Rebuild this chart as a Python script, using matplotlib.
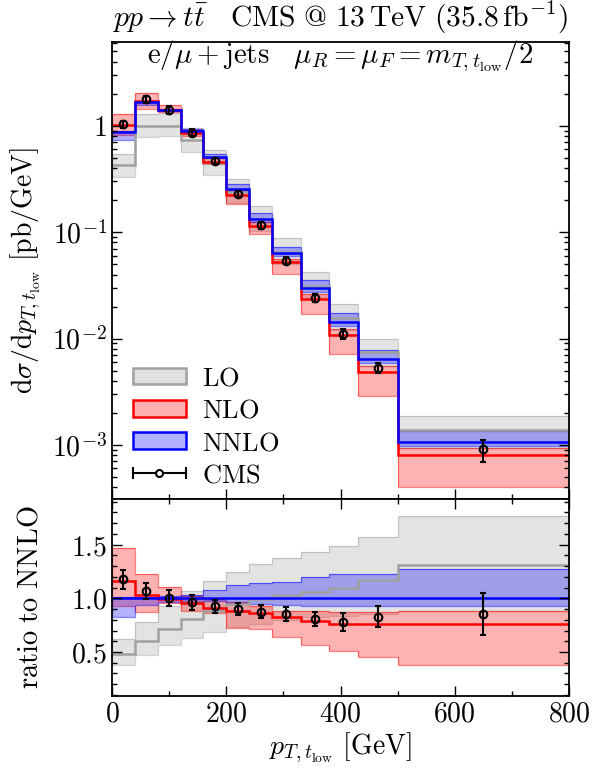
import numpy as np
import matplotlib
matplotlib.use('Agg')
import matplotlib.pyplot as plt
from matplotlib.patches import Patch
from matplotlib.lines import Line2D
from matplotlib.legend_handler import HandlerBase
from matplotlib.ticker import FixedLocator, FixedFormatter, MultipleLocator, LogLocator, NullFormatter

plt.rcParams['mathtext.fontset'] = 'cm'
plt.rcParams['font.family'] = ['DejaVu Serif']

# ---------------- data ----------------
edges = [0, 40, 80, 120, 160, 200, 240, 280, 330, 380, 430, 500, 800]
centers = [20, 60, 100, 140, 180, 220, 260, 305, 355, 405, 465, 650]

# NNLO absolute central values [pb/GeV]
nnlo = [0.88, 1.66, 1.41, 0.90, 0.507, 0.255, 0.133, 0.0634, 0.0297, 0.0142, 0.00638, 0.00106]

# ratios to NNLO central
nnlo_up_r = [1.01, 1.01, 1.02, 1.03, 1.08, 1.12, 1.14, 1.15, 1.20, 1.23, 1.23, 1.27]
nnlo_lo_r = [0.83, 0.94, 0.97, 0.97, 0.975, 0.96, 0.945, 0.936, 0.924, 0.924, 0.924, 0.924]

nlo_r = [1.158, 1.030, 0.991, 0.952, 0.909, 0.885, 0.861, 0.824, 0.788, 0.764, 0.758, 0.764]
nlo_up_r = [1.47, 1.224, 1.103, 1.02, 0.99, 0.97, 0.93, 0.88, 0.88, 0.87, 0.87, 0.88]
nlo_lo_r = [0.924, 0.876, 0.96, 0.885, 0.864, 0.724, 0.718, 0.642, 0.567, 0.506, 0.455, 0.376]

lo_r = [0.485, 0.603, 0.712, 0.809, 0.885, 0.945, 0.997, 1.027, 1.058, 1.097, 1.167, 1.306]
lo_up_r = [0.618, 0.779, 0.930, 1.067, 1.164, 1.248, 1.318, 1.376, 1.430, 1.488, 1.567, 1.764]
lo_lo_r = [0.379, 0.476, 0.567, 0.627, 0.682, 0.733, 0.764, 0.794, 0.824, 0.839, 0.858, 0.879]

cms_r = [1.179, 1.067, 1.003, 0.961, 0.924, 0.900, 0.876, 0.852, 0.809, 0.779, 0.830, 0.855]
cms_err_r = [0.088, 0.076, 0.079, 0.070, 0.060, 0.060, 0.064, 0.065, 0.067, 0.082, 0.094, 0.197]

edges = np.array(edges, float)
nnlo = np.array(nnlo)

# ---------------- figure ----------------
W, H = 598, 769
fig = plt.figure(figsize=(W / 100, H / 100), dpi=100)
L, R = 112 / W, 569 / W
ax = fig.add_axes([L, 1 - 499 / H, R - L, (499 - 42.3) / H])
axr = fig.add_axes([L, 1 - 696 / H, R - L, (696 - 499) / H], sharex=ax)

FS = 20

c_lo_line = '#a0a0a0'
c_lo_fill = (0.5, 0.5, 0.5, 0.22)
c_lo_edge = (0.6, 0.6, 0.6, 0.45)
c_nlo_fill = (1.0, 0.0, 0.0, 0.30)
c_nlo_edge = (1.0, 0.0, 0.0, 0.5)
c_nnlo_fill = (0.0, 0.0, 1.0, 0.30)
c_nnlo_edge = (0.0, 0.0, 1.0, 0.5)


def draw(a, scale):
    def s(r):
        return np.array(r) * scale
    a.stairs(s(lo_up_r), edges, baseline=s(lo_lo_r), fill=True, color=c_lo_fill, lw=0)
    a.stairs(s(lo_up_r), edges, baseline=s(lo_lo_r), fill=False, color=c_lo_edge, lw=0.9)
    a.stairs(s(nlo_up_r), edges, baseline=s(nlo_lo_r), fill=True, color=c_nlo_fill, lw=0)
    a.stairs(s(nlo_up_r), edges, baseline=s(nlo_lo_r), fill=False, color=c_nlo_edge, lw=0.9)
    a.stairs(s(nnlo_up_r), edges, baseline=s(nnlo_lo_r), fill=True, color=c_nnlo_fill, lw=0)
    a.stairs(s(nnlo_up_r), edges, baseline=s(nnlo_lo_r), fill=False, color=c_nnlo_edge, lw=0.9)
    a.stairs(s(lo_r), edges, baseline=None, color=c_lo_line, lw=1.8)
    a.stairs(s(nlo_r), edges, baseline=None, color='red', lw=1.8)
    a.stairs(s(np.ones(len(nnlo))), edges, baseline=None, color='blue', lw=1.8)
    a.errorbar(centers, s(cms_r), yerr=s(cms_err_r), fmt='o', mfc='none', mec='k',
               color='k', ms=5.5, mew=1.5, elinewidth=1.5, capsize=2.5, capthick=1.5, zorder=10)


draw(ax, nnlo)
draw(axr, np.ones(len(nnlo)))

# main axis
ax.set_yscale('log')
ax.set_ylim(3.1e-4, 6.1)
ax.set_xlim(0, 800)
ax.yaxis.set_major_locator(FixedLocator([1e-3, 1e-2, 1e-1, 1]))
ax.yaxis.set_major_formatter(FixedFormatter([r'$10^{-3}$', r'$10^{-2}$', r'$10^{-1}$', r'$1$']))
ax.yaxis.set_minor_locator(LogLocator(base=10, subs=np.arange(2, 10) * 1.0, numticks=20))
ax.yaxis.set_minor_formatter(NullFormatter())
ax.set_ylabel(r'$\mathrm{d}\sigma/\mathrm{d}p_{T,t_{\mathrm{low}}}\ [\mathrm{pb}/\mathrm{GeV}]$', fontsize=FS)
plt.setp(ax.get_xticklabels(), visible=False)

# ratio axis
axr.set_ylim(0.09, 1.925)
axr.yaxis.set_major_locator(FixedLocator([0.5, 1.0, 1.5]))
axr.yaxis.set_major_formatter(FixedFormatter([r'$0.5$', r'$1.0$', r'$1.5$']))
axr.yaxis.set_minor_locator(MultipleLocator(0.1))
axr.xaxis.set_major_locator(FixedLocator([0, 200, 400, 600, 800]))
axr.xaxis.set_major_formatter(FixedFormatter([r'$0$', r'$200$', r'$400$', r'$600$', r'$800$']))
axr.xaxis.set_minor_locator(MultipleLocator(100))
axr.set_ylabel(r'$\mathrm{ratio\ to\ NNLO}$', fontsize=20.5)
axr.set_xlabel(r'$p_{T,t_{\mathrm{low}}}\ [\mathrm{GeV}]$', fontsize=FS, labelpad=2)

for a in (ax, axr):
    a.tick_params(which='both', direction='in', top=True, right=True, labelsize=FS)
    a.tick_params(which='major', length=7, width=1.0)
    a.tick_params(which='minor', length=3.5, width=1.0)
    for sp in a.spines.values():
        sp.set_linewidth(1.3)
# top ticks of the main panel are hidden behind the white label box in the original
ax.tick_params(which='both', top=False)
ax.yaxis.set_label_coords(-0.15, 0.5)
axr.yaxis.set_label_coords(-0.15, 0.5)

# texts
fig.text((L + R) / 2, 1 - 27 / H,
         r'$pp \to t\bar{t}\quad \mathrm{CMS\ @\ 13\,TeV}\ (35.8\,\mathrm{fb}^{-1})$',
         ha='center', va='baseline', fontsize=21.3)
ax.text(0.5, 0.955, r'$\mathrm{e}/\mu + \mathrm{jets}\quad \mu_R = \mu_F = m_{T,t_{\mathrm{low}}}/2$',
        transform=ax.transAxes, ha='center', va='baseline', fontsize=20.8)


# legend
class HandlerCMS(HandlerBase):
    def create_artists(self, legend, orig_handle, xdescent, ydescent, width, height, fontsize, trans):
        y = height / 2 - ydescent
        x0, x1 = -xdescent, -xdescent + width
        line = Line2D([x0, x1], [y, y], color='k', lw=1.5)
        caps = Line2D([x0, x1], [y, y], ls='none', marker='|', ms=8, mew=1.5, color='k')
        dot = Line2D([(x0 + x1) / 2], [y], ls='none', marker='o', ms=5, mfc='white', mec='k', mew=1.5)
        for art in (line, caps, dot):
            art.set_transform(trans)
        return [line, caps, dot]


h_lo = Patch(facecolor='#e0e0e0', edgecolor='#a0a0a0', lw=1.8)
h_nlo = Patch(facecolor='#ffb0b0', edgecolor='red', lw=1.8)
h_nnlo = Patch(facecolor='#b0b0ff', edgecolor='blue', lw=1.8)
h_cms = Line2D([], [], color='k')
leg = ax.legend([h_lo, h_nlo, h_nnlo, h_cms],
                [r'$\mathrm{LO}$', r'$\mathrm{NLO}$', r'$\mathrm{NNLO}$', r'$\mathrm{CMS}$'],
                handler_map={h_cms: HandlerCMS()},
                loc='center left', bbox_to_anchor=(0.046, 0.159), frameon=False, fontsize=19,
                handlelength=2.0, handleheight=0.6, handletextpad=0.6, labelspacing=0.28,
                borderpad=0.0, borderaxespad=0.0)

fig.savefig('out.png', dpi=100)
